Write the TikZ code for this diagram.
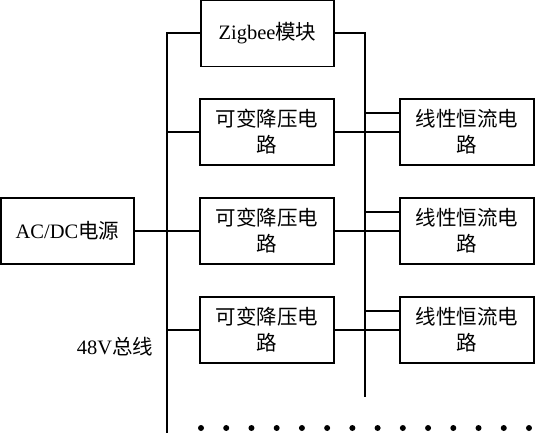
\documentclass[tikz,border=0pt]{standalone}
\usepackage{fontspec}
\setmainfont{Liberation Serif}
\newfontfamily\cjk{Noto Sans CJK SC}
\begin{document}
\begin{tikzpicture}[x=1pt,y=-1pt,
  box/.style={draw,line width=1.5pt,minimum width=134pt,minimum height=66pt,inner sep=0pt,align=center,font=\fontsize{20.5}{26}\selectfont},
  wire/.style={line width=1.5pt},
  lbl/.style={inner sep=0pt,font=\fontsize{20.5}{26}\selectfont}]
\useasboundingbox (0,0) rectangle (535,433);
\node[box,minimum width=133pt] (zig) at (267.5,33.5) {Zigbee{\cjk 模块}};
\node[box,minimum width=133pt] (ac) at (67.5,231) {AC/DC{\cjk 电源}};
\node[box] (b1) at (267,132) {\cjk 可变降压电\\\cjk 路};
\node[box] (b2) at (267,231) {\cjk 可变降压电\\\cjk 路};
\node[box] (b3) at (267,330) {\cjk 可变降压电\\\cjk 路};
\node[box] (l1) at (467,132) {\cjk 线性恒流电\\\cjk 路};
\node[box] (l2) at (467,231) {\cjk 线性恒流电\\\cjk 路};
\node[box] (l3) at (467,330) {\cjk 线性恒流电\\\cjk 路};
\node[lbl] (bus) at (115,347) {48V{\cjk 总线}};
\coordinate (lt) at (167,33);
\coordinate (lb) at (167,433);
\coordinate (rt) at (365,33);
\coordinate (rb) at (365,397);
\draw[wire] (zig.west |- lt) -- (lt) -- (lb);
\draw[wire] (zig.east |- rt) -- (rt) -- (rb);
\draw[wire] (ac.east) -- (b2.west);
\draw[wire] (b1.west) -- (b1.west -| lt);
\draw[wire] (b3.west) -- (b3.west -| lt);
\foreach \i in {1,2,3}{
  \draw[wire] (b\i.east) -- (l\i.west);
  \draw[wire] ([yshift=19pt]l\i.west) -- ([yshift=19pt]l\i.west -| rt);
}
\foreach \k in {0,...,13}{
  \fill (201+25.23*\k,428) circle (3pt);
}
\end{tikzpicture}
\end{document}
